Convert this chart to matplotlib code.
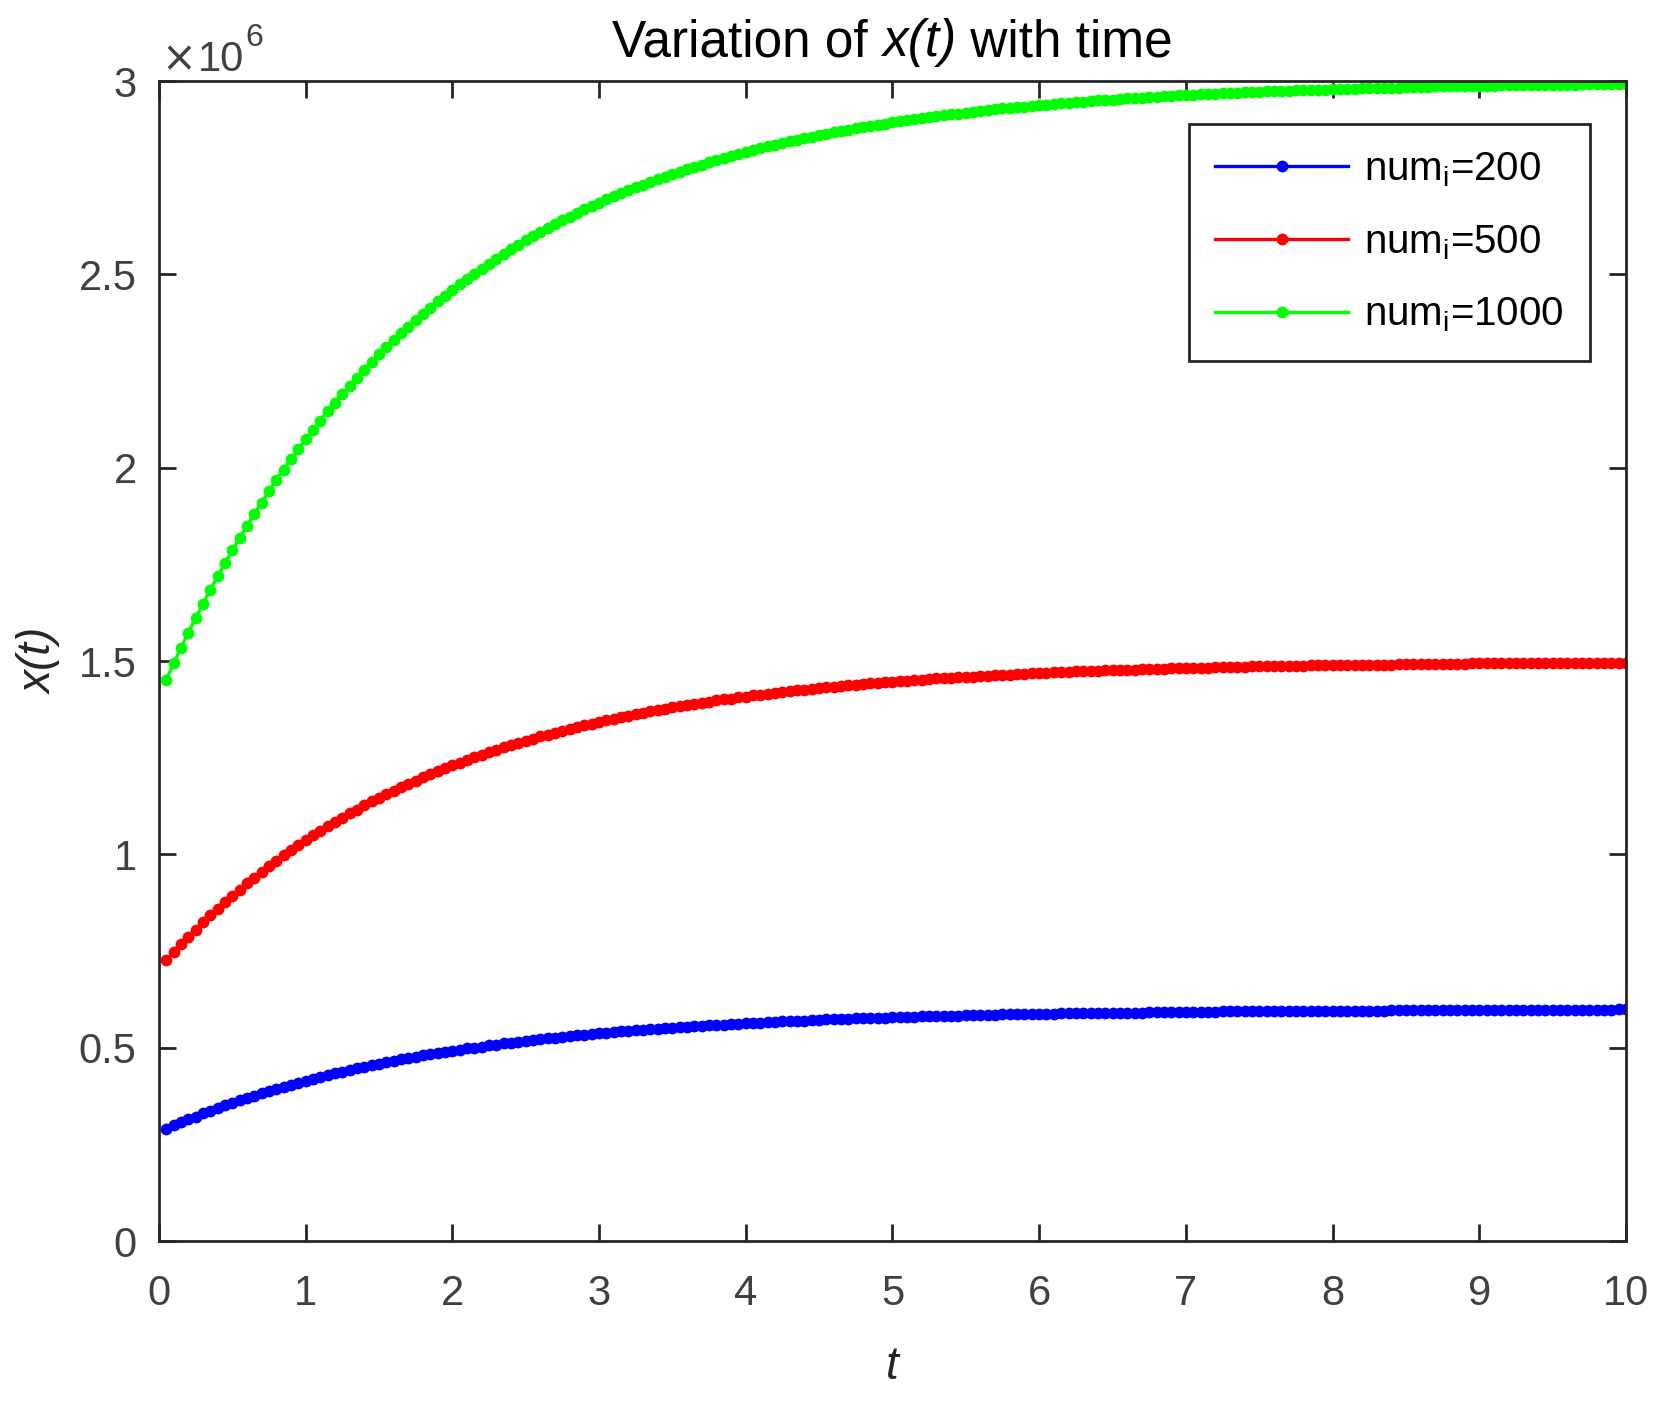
import numpy as np
import matplotlib
matplotlib.use('Agg')
import matplotlib.pyplot as plt
from matplotlib.ticker import FormatStrFormatter
from matplotlib.offsetbox import TextArea, HPacker, AnchoredOffsetbox

plt.rcParams['font.family'] = ['Liberation Sans', 'DejaVu Sans']
plt.rcParams['mathtext.fontset'] = 'custom'
plt.rcParams['mathtext.rm'] = 'Liberation Sans'
plt.rcParams['mathtext.it'] = 'Liberation Sans:italic'
plt.rcParams['mathtext.bf'] = 'Liberation Sans:bold'

# time grid (step 0.05), values in units of 1e6
t = np.round(np.arange(1, 201) * 0.05, 2)

x_200 = [
    0.290, 0.299, 0.307, 0.315, 0.322, 0.330, 0.337, 0.344, 0.351, 0.357,
    0.364, 0.370, 0.376, 0.382, 0.388, 0.394, 0.399, 0.404, 0.410, 0.415,
    0.420, 0.424, 0.429, 0.434, 0.438, 0.442, 0.447, 0.451, 0.455, 0.459,
    0.462, 0.466, 0.470, 0.473, 0.476, 0.480, 0.483, 0.486, 0.489, 0.492,
    0.495, 0.498, 0.500, 0.503, 0.506, 0.508, 0.511, 0.513, 0.515, 0.518,
    0.520, 0.522, 0.524, 0.526, 0.528, 0.530, 0.532, 0.534, 0.535, 0.537,
    0.539, 0.540, 0.542, 0.544, 0.545, 0.546, 0.548, 0.549, 0.551, 0.552,
    0.553, 0.554, 0.556, 0.557, 0.558, 0.559, 0.560, 0.561, 0.562, 0.563,
    0.564, 0.565, 0.566, 0.567, 0.568, 0.569, 0.570, 0.570, 0.571, 0.572,
    0.573, 0.573, 0.574, 0.575, 0.576, 0.576, 0.577, 0.577, 0.578, 0.579,
    0.579, 0.580, 0.580, 0.581, 0.581, 0.582, 0.582, 0.583, 0.583, 0.584,
    0.584, 0.585, 0.585, 0.585, 0.586, 0.586, 0.586, 0.587, 0.587, 0.588,
    0.588, 0.588, 0.589, 0.589, 0.589, 0.589, 0.590, 0.590, 0.590, 0.590,
    0.591, 0.591, 0.591, 0.591, 0.592, 0.592, 0.592, 0.592, 0.593, 0.593,
    0.593, 0.593, 0.593, 0.593, 0.594, 0.594, 0.594, 0.594, 0.594, 0.594,
    0.595, 0.595, 0.595, 0.595, 0.595, 0.595, 0.595, 0.596, 0.596, 0.596,
    0.596, 0.596, 0.596, 0.596, 0.596, 0.596, 0.596, 0.597, 0.597, 0.597,
    0.597, 0.597, 0.597, 0.597, 0.597, 0.597, 0.597, 0.597, 0.597, 0.598,
    0.598, 0.598, 0.598, 0.598, 0.598, 0.598, 0.598, 0.598, 0.598, 0.598,
    0.598, 0.598, 0.598, 0.598, 0.598, 0.598, 0.598, 0.598, 0.599, 0.599,
]

x_500 = [
    0.726, 0.747, 0.767, 0.786, 0.805, 0.824, 0.842, 0.859, 0.877, 0.893,
    0.909, 0.925, 0.940, 0.955, 0.970, 0.984, 0.998, 1.011, 1.024, 1.037,
    1.049, 1.061, 1.073, 1.084, 1.095, 1.106, 1.116, 1.127, 1.137, 1.146,
    1.156, 1.165, 1.174, 1.183, 1.191, 1.199, 1.207, 1.215, 1.223, 1.230,
    1.237, 1.244, 1.251, 1.258, 1.264, 1.270, 1.277, 1.282, 1.288, 1.294,
    1.299, 1.305, 1.310, 1.315, 1.320, 1.325, 1.329, 1.334, 1.338, 1.343,
    1.347, 1.351, 1.355, 1.359, 1.363, 1.366, 1.370, 1.373, 1.377, 1.380,
    1.383, 1.386, 1.389, 1.392, 1.395, 1.398, 1.401, 1.403, 1.406, 1.408,
    1.411, 1.413, 1.415, 1.418, 1.420, 1.422, 1.424, 1.426, 1.428, 1.430,
    1.432, 1.434, 1.435, 1.437, 1.439, 1.440, 1.442, 1.444, 1.445, 1.447,
    1.448, 1.449, 1.451, 1.452, 1.453, 1.455, 1.456, 1.457, 1.458, 1.459,
    1.460, 1.461, 1.462, 1.463, 1.464, 1.465, 1.466, 1.467, 1.468, 1.469,
    1.470, 1.471, 1.471, 1.472, 1.473, 1.474, 1.474, 1.475, 1.476, 1.476,
    1.477, 1.477, 1.478, 1.479, 1.479, 1.480, 1.480, 1.481, 1.481, 1.482,
    1.482, 1.483, 1.483, 1.484, 1.484, 1.485, 1.485, 1.485, 1.486, 1.486,
    1.487, 1.487, 1.487, 1.488, 1.488, 1.488, 1.489, 1.489, 1.489, 1.489,
    1.490, 1.490, 1.490, 1.491, 1.491, 1.491, 1.491, 1.491, 1.492, 1.492,
    1.492, 1.492, 1.493, 1.493, 1.493, 1.493, 1.493, 1.493, 1.494, 1.494,
    1.494, 1.494, 1.494, 1.494, 1.495, 1.495, 1.495, 1.495, 1.495, 1.495,
    1.495, 1.496, 1.496, 1.496, 1.496, 1.496, 1.496, 1.496, 1.496, 1.496,
]

x_1000 = [
    1.452, 1.494, 1.534, 1.573, 1.611, 1.648, 1.684, 1.719, 1.753, 1.786,
    1.819, 1.850, 1.881, 1.910, 1.940, 1.968, 1.995, 2.022, 2.048, 2.073,
    2.098, 2.122, 2.146, 2.168, 2.190, 2.212, 2.233, 2.253, 2.273, 2.293,
    2.312, 2.330, 2.348, 2.365, 2.382, 2.398, 2.414, 2.430, 2.445, 2.460,
    2.474, 2.488, 2.502, 2.515, 2.528, 2.541, 2.553, 2.565, 2.577, 2.588,
    2.599, 2.609, 2.620, 2.630, 2.640, 2.649, 2.659, 2.668, 2.677, 2.685,
    2.694, 2.702, 2.710, 2.718, 2.725, 2.732, 2.740, 2.746, 2.753, 2.760,
    2.766, 2.772, 2.778, 2.784, 2.790, 2.796, 2.801, 2.806, 2.812, 2.817,
    2.822, 2.826, 2.831, 2.835, 2.840, 2.844, 2.848, 2.852, 2.856, 2.860,
    2.864, 2.867, 2.871, 2.874, 2.878, 2.881, 2.884, 2.887, 2.890, 2.893,
    2.896, 2.899, 2.901, 2.904, 2.907, 2.909, 2.912, 2.914, 2.916, 2.918,
    2.921, 2.923, 2.925, 2.927, 2.929, 2.931, 2.932, 2.934, 2.936, 2.938,
    2.939, 2.941, 2.943, 2.944, 2.946, 2.947, 2.948, 2.950, 2.951, 2.952,
    2.954, 2.955, 2.956, 2.957, 2.958, 2.960, 2.961, 2.962, 2.963, 2.964,
    2.965, 2.966, 2.967, 2.967, 2.968, 2.969, 2.970, 2.971, 2.972, 2.972,
    2.973, 2.974, 2.974, 2.975, 2.976, 2.976, 2.977, 2.978, 2.978, 2.979,
    2.979, 2.980, 2.980, 2.981, 2.982, 2.982, 2.982, 2.983, 2.983, 2.984,
    2.984, 2.985, 2.985, 2.986, 2.986, 2.986, 2.987, 2.987, 2.987, 2.988,
    2.988, 2.988, 2.989, 2.989, 2.989, 2.990, 2.990, 2.990, 2.990, 2.991,
    2.991, 2.991, 2.991, 2.992, 2.992, 2.992, 2.992, 2.992, 2.993, 2.993,
]

series = [(x_200, '#0000FF', r'num$_\mathrm{i}$=200'),
          (x_500, '#FF0000', r'num$_\mathrm{i}$=500'),
          (x_1000, '#00FF00', r'num$_\mathrm{i}$=1000')]

fig = plt.figure(figsize=(16.68, 14.02), dpi=100)
ax = fig.add_axes([0.0953, 0.1148, 0.8795, 0.8274])

for vals, col, lab in series:
    ax.plot(t, vals, color=col, lw=2.4, marker='o', ms=8.5, mew=0, label=lab)

ax.set_xlim(0, 10)
ax.set_ylim(0, 3)
ax.set_xticks(range(0, 11))
ax.set_yticks(np.arange(0, 3.01, 0.5))
ax.yaxis.set_major_formatter(FormatStrFormatter('%g'))

axcol = '#262626'
for s in ax.spines.values():
    s.set_linewidth(2)
    s.set_color(axcol)
ax.tick_params(direction='in', length=12, width=2, color=axcol,
               labelsize=30, labelcolor='#404040',
               top=True, right=True)
ax.tick_params(axis='x', pad=24)
ax.tick_params(axis='y', pad=16)

# exponent label at top left
ax.annotate('\u00d7', xy=(0, 1), xycoords='axes fraction', xytext=(2, 7),
            textcoords='offset points', fontsize=30, color='#404040',
            family='DejaVu Sans', ha='left', va='baseline')
ax.annotate('10', xy=(0, 1), xycoords='axes fraction', xytext=(28, 7),
            textcoords='offset points', fontsize=30, color='#404040',
            ha='left', va='baseline')
ax.annotate('6', xy=(0, 1), xycoords='axes fraction', xytext=(62, 25),
            textcoords='offset points', fontsize=23, color='#404040',
            ha='left', va='baseline')

# title with italic x(t)
parts = [TextArea('Variation of ', textprops=dict(fontsize=37, color='black')),
         TextArea('x(t)', textprops=dict(fontsize=37, color='black', style='italic')),
         TextArea(' with time', textprops=dict(fontsize=37, color='black'))]
title_box = HPacker(children=parts, align='baseline', pad=0, sep=0)
anchored = AnchoredOffsetbox(loc='lower center', child=title_box, pad=0,
                             borderpad=0, frameon=False,
                             bbox_to_anchor=(0.5, 1.012),
                             bbox_transform=ax.transAxes)
ax.add_artist(anchored)

ax.set_xlabel('t', fontsize=33, style='italic', color=axcol, labelpad=22)
ax.set_ylabel('x(t)', fontsize=33, style='italic', color=axcol, labelpad=12)

leg = ax.legend(loc='upper right', bbox_to_anchor=(1590 / 1668, 1 - 124 / 1402),
                bbox_transform=fig.transFigure, borderaxespad=0,
                fontsize=29, numpoints=1, handlelength=3.3, handletextpad=0.4,
                labelspacing=0.85, borderpad=0.65, fancybox=False, framealpha=1)
leg.get_frame().set_edgecolor(axcol)
leg.get_frame().set_linewidth(2)

fig.savefig('out.png', dpi=100, facecolor='white')
